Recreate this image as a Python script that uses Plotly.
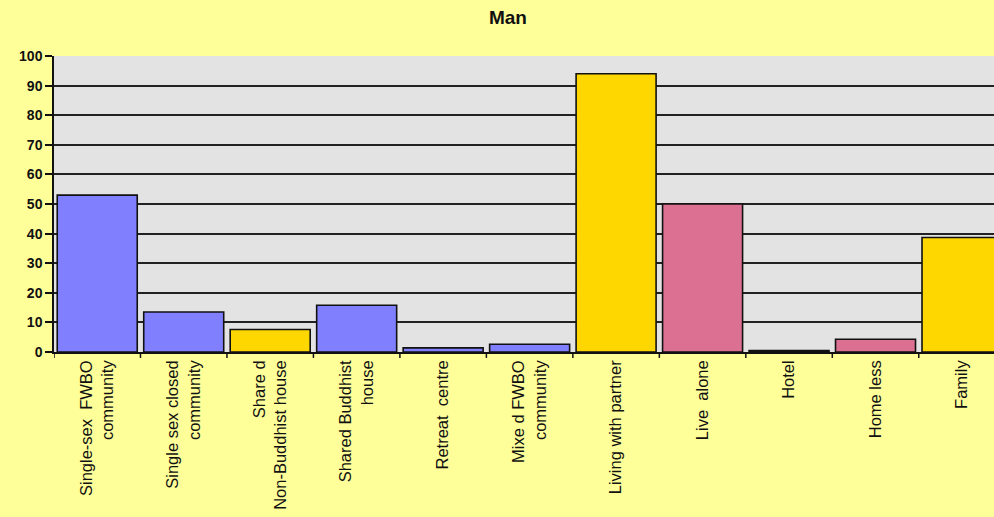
"""Bar chart: living situation, Man."""
import plotly.graph_objects as go

categories = [
    "Single-sex  FWBO<br>community",
    "Single sex closed<br>community",
    "Share d<br>Non-Buddhist house",
    "Shared Buddhist<br>house",
    "Retreat  centre",
    "Mixe d FWBO<br>community",
    "Living with partner",
    "Live  alone",
    "Hotel",
    "Home less",
    "Family",
]
values = [53, 13.5, 7.6, 15.8, 1.4, 2.6, 94, 50, 0.5, 4.3, 38.7]
groups = ["c", "c", "o", "c", "c", "c", "o", "a", "a", "a", "o"]

palette = {"c": "#8080ff", "o": "#ffd700", "a": "#dc7093"}
colors = [palette[g] for g in groups]

fig = go.Figure(go.Bar(
    x=list(range(len(categories))), y=values,
    marker=dict(color=colors, line=dict(color="#111111", width=1.6)),
    width=0.925,
))

fig.update_layout(
    width=994, height=517,
    paper_bgcolor="#ffff99", plot_bgcolor="#e3e3e3",
    margin=dict(l=54, r=0, t=56, b=165),
    showlegend=False,
    title=dict(text="<b>Man</b>", x=0.511, xanchor="center", y=0.967, yanchor="middle",
               font=dict(family="Liberation Sans, Arial", size=19, color="#111")),
    font=dict(family="Liberation Sans, Arial", color="#111"),
)
fig.update_xaxes(
    range=[-0.5, 10.37],
    tickmode="array", tickvals=list(range(len(categories))), ticktext=categories,
    tickangle=-90, tickfont=dict(size=16.5),
    showgrid=False, showline=True, linecolor="#111", linewidth=1.5,
    ticks="", zeroline=False,
)
# boundary ticks between categories
for i in range(len(categories) + 1):
    fig.add_shape(type="line", xref="x", yref="paper",
                  x0=i - 0.5, x1=i - 0.5, y0=0, y1=-0.02,
                  line=dict(color="#111", width=1.5))
fig.update_yaxes(
    range=[0, 100], dtick=10, tick0=0,
    showgrid=True, gridcolor="#222", gridwidth=1.5,
    showline=True, linecolor="#111", linewidth=1.5,
    ticks="outside", ticklen=7, tickcolor="#111", tickwidth=1.5,
    tickfont=dict(size=14),
    tickprefix="<b>", ticksuffix="</b>",
    zeroline=False,
)

fig.write_html(
    "out.html",
    config={"displayModeBar": False},
    post_script="document.body.style.margin='0';document.body.style.background='#ffff99';",
)
